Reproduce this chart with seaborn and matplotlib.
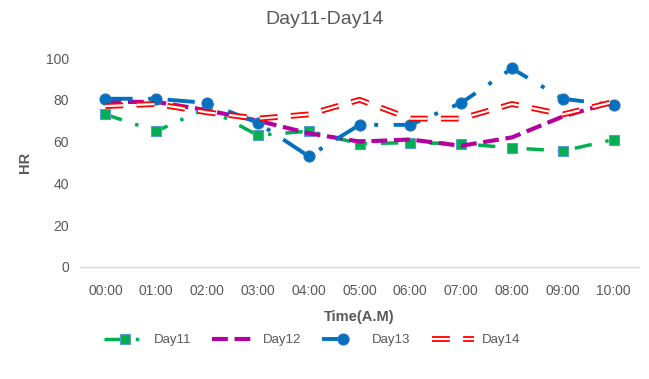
import matplotlib
matplotlib.use("Agg")
import matplotlib.pyplot as plt
import matplotlib.patheffects as pe
import seaborn as sns
import pandas as pd

times = ["00:00", "01:00", "02:00", "03:00", "04:00", "05:00",
         "06:00", "07:00", "08:00", "09:00", "10:00"]
day11 = [73, 65, 76, 63, 65, 59, 59.5, 59, 57, 55.5, 61]
day12 = [79, 79, 75, 70, 64, 60, 61, 58, 62, 72, 79]
day13 = [80.5, 80.5, 78.5, 69, 53, 68, 68, 78.5, 95, 80.5, 77.5]
day14 = [77, 78, 74, 71, 73, 80, 71, 71, 78, 73, 79]

sns.set_theme(style="white")
plt.rcParams["font.family"] = ["Liberation Sans", "DejaVu Sans"]

fig = plt.figure(figsize=(6.49, 3.79), dpi=100)
ax = fig.add_axes([80 / 649, 1 - 267 / 379, 559 / 649, 209 / 379])

df = pd.DataFrame({"t": times, "Day11": day11, "Day12": day12,
                   "Day13": day13, "Day14": day14})

sns.lineplot(data=df, x="t", y="Day11", ax=ax, color="#00B050", lw=2.5,
             marker="s", markersize=7, markeredgecolor="#5B9BD5",
             markeredgewidth=0.8, label="Day11", sort=False)
ax.lines[-1].set_dashes([5, 4, 1, 4])
sns.lineplot(data=df, x="t", y="Day12", ax=ax, color="#B4009E", lw=3,
             label="Day12", sort=False)
ax.lines[-1].set_dashes([3.8, 1.6])
sns.lineplot(data=df, x="t", y="Day13", ax=ax, color="#0070C0", lw=2.8,
             marker="o", markersize=8, markeredgecolor="#2E75B6",
             label="Day13", sort=False)
ax.lines[-1].set_dashes([7, 4, 1, 4])
sns.lineplot(data=df, x="t", y="Day14", ax=ax, color="white", lw=1.6,
             label="Day14", sort=False)
l14 = ax.lines[-1]
l14.set_dashes([8, 6])
l14.set_path_effects([pe.Stroke(linewidth=4.2, foreground="#FF0000"), pe.Normal()])

ax.set_xlim(-0.5, 10.5)
ax.set_ylim(0, 100)
ax.set_yticks([0, 20, 40, 60, 80, 100])
for s in ["top", "right", "left"]:
    ax.spines[s].set_visible(False)
ax.spines["bottom"].set_color("#D9D9D9")
ax.spines["bottom"].set_linewidth(1)
ax.tick_params(axis="x", labelsize=10, colors="#595959", length=0, pad=12)
ax.tick_params(axis="y", labelsize=10, colors="#595959", length=0, pad=8)
ax.set_xlabel("Time(A.M)", fontsize=10.5, fontweight="bold", color="#595959", labelpad=9)
ax.set_ylabel("HR", fontsize=10.5, fontweight="bold", color="#595959", labelpad=10)
ax.grid(False)

fig.text(0.5, 1 - 20 / 379, "Day11-Day14", ha="center", va="center",
         fontsize=14, color="#595959")

ax.legend(loc="center", bbox_to_anchor=((312 - 80) / 559, (267 - 340) / 209),
          ncol=4, frameon=False, fontsize=9.5, handlelength=3.2,
          columnspacing=1.6, handletextpad=0.6, labelcolor="#595959")

fig.savefig("out.png", dpi=100)
